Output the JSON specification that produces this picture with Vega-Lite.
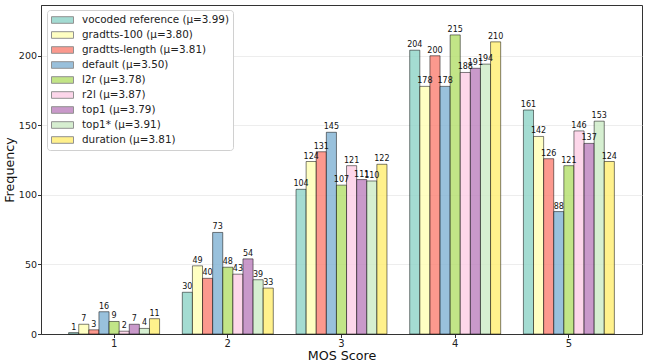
{
  "$schema": "https://vega.github.io/schema/vega-lite/v6.json",
  "width": 601,
  "height": 329,
  "autosize": {"type": "none"},
  "padding": {"left": 41, "top": 5, "right": 4, "bottom": 27},
  "config": {
    "font": "DejaVu Sans",
    "view": {"stroke": "#333", "strokeWidth": 1},
    "axis": {"labelFont": "DejaVu Sans", "titleFont": "DejaVu Sans", "labelColor": "#222", "titleColor": "#111", "titleFontWeight": "normal", "tickColor": "#333", "domainColor": "#333", "tickSize": 3.5}
  },
  "data": {
    "values": [
      {"score": "1", "system": "vocoded reference (μ=3.99)", "freq": 1},
      {"score": "1", "system": "gradtts-100 (μ=3.80)", "freq": 7},
      {"score": "1", "system": "gradtts-length (μ=3.81)", "freq": 3},
      {"score": "1", "system": "default (μ=3.50)", "freq": 16},
      {"score": "1", "system": "l2r (μ=3.78)", "freq": 9},
      {"score": "1", "system": "r2l (μ=3.87)", "freq": 2},
      {"score": "1", "system": "top1 (μ=3.79)", "freq": 7},
      {"score": "1", "system": "top1* (μ=3.91)", "freq": 4},
      {"score": "1", "system": "duration (μ=3.81)", "freq": 11},
      {"score": "2", "system": "vocoded reference (μ=3.99)", "freq": 30},
      {"score": "2", "system": "gradtts-100 (μ=3.80)", "freq": 49},
      {"score": "2", "system": "gradtts-length (μ=3.81)", "freq": 40},
      {"score": "2", "system": "default (μ=3.50)", "freq": 73},
      {"score": "2", "system": "l2r (μ=3.78)", "freq": 48},
      {"score": "2", "system": "r2l (μ=3.87)", "freq": 43},
      {"score": "2", "system": "top1 (μ=3.79)", "freq": 54},
      {"score": "2", "system": "top1* (μ=3.91)", "freq": 39},
      {"score": "2", "system": "duration (μ=3.81)", "freq": 33},
      {"score": "3", "system": "vocoded reference (μ=3.99)", "freq": 104},
      {"score": "3", "system": "gradtts-100 (μ=3.80)", "freq": 124},
      {"score": "3", "system": "gradtts-length (μ=3.81)", "freq": 131},
      {"score": "3", "system": "default (μ=3.50)", "freq": 145},
      {"score": "3", "system": "l2r (μ=3.78)", "freq": 107},
      {"score": "3", "system": "r2l (μ=3.87)", "freq": 121},
      {"score": "3", "system": "top1 (μ=3.79)", "freq": 111},
      {"score": "3", "system": "top1* (μ=3.91)", "freq": 110},
      {"score": "3", "system": "duration (μ=3.81)", "freq": 122},
      {"score": "4", "system": "vocoded reference (μ=3.99)", "freq": 204},
      {"score": "4", "system": "gradtts-100 (μ=3.80)", "freq": 178},
      {"score": "4", "system": "gradtts-length (μ=3.81)", "freq": 200},
      {"score": "4", "system": "default (μ=3.50)", "freq": 178},
      {"score": "4", "system": "l2r (μ=3.78)", "freq": 215},
      {"score": "4", "system": "r2l (μ=3.87)", "freq": 188},
      {"score": "4", "system": "top1 (μ=3.79)", "freq": 191},
      {"score": "4", "system": "top1* (μ=3.91)", "freq": 194},
      {"score": "4", "system": "duration (μ=3.81)", "freq": 210},
      {"score": "5", "system": "vocoded reference (μ=3.99)", "freq": 161},
      {"score": "5", "system": "gradtts-100 (μ=3.80)", "freq": 142},
      {"score": "5", "system": "gradtts-length (μ=3.81)", "freq": 126},
      {"score": "5", "system": "default (μ=3.50)", "freq": 88},
      {"score": "5", "system": "l2r (μ=3.78)", "freq": 121},
      {"score": "5", "system": "r2l (μ=3.87)", "freq": 146},
      {"score": "5", "system": "top1 (μ=3.79)", "freq": 137},
      {"score": "5", "system": "top1* (μ=3.91)", "freq": 153},
      {"score": "5", "system": "duration (μ=3.81)", "freq": 124}
    ]
  },
  "encoding": {
    "x": {
      "field": "score", "type": "nominal", "sort": null,
      "scale": {"paddingInner": 0.2, "paddingOuter": 0.243},
      "axis": {"title": "MOS Score", "labelAngle": 0, "labelFontSize": 10, "titleFontSize": 12.7, "labelPadding": 1, "titlePadding": 1}
    },
    "xOffset": {
      "field": "system", "type": "nominal", "sort": null,
      "scale": {"paddingInner": 0, "paddingOuter": 0}
    },
    "y": {
      "field": "freq", "type": "quantitative",
      "scale": {"domain": [0, 236.5], "nice": false},
      "axis": {"title": "Frequency", "values": [0, 50, 100, 150, 200], "labelFontSize": 9.5, "titleFontSize": 12.7, "labelPadding": 1, "grid": true, "gridColor": "#e6e6e6", "gridOpacity": 0.7, "titlePadding": 2}
    }
  },
  "layer": [
    {
      "mark": {"type": "bar", "fillOpacity": 0.8, "stroke": "black", "strokeOpacity": 0.5, "strokeWidth": 1},
      "encoding": {
        "color": {
          "field": "system", "type": "nominal", "sort": null,
          "scale": {
            "domain": ["vocoded reference (μ=3.99)", "gradtts-100 (μ=3.80)", "gradtts-length (μ=3.81)", "default (μ=3.50)", "l2r (μ=3.78)", "r2l (μ=3.87)", "top1 (μ=3.79)", "top1* (μ=3.91)", "duration (μ=3.81)"],
            "range": ["#8dd3c7", "#ffffb3", "#fb8072", "#80b1d3", "#b3de69", "#fccde5", "#bc80bd", "#ccebc5", "#ffed6f"]
          },
          "legend": {
            "title": null,
            "orient": "none",
            "legendX": 6,
            "legendY": 5,
            "symbolType": "M-2,-0.6H2V0.6H-2Z",
            "symbolSize": 121,
            "symbolOpacity": 0.8,
            "symbolStrokeColor": "#777",
            "symbolStrokeWidth": 1,
            "symbolOffset": 5.5,
            "labelFontSize": 10.4,
            "labelFont": "DejaVu Sans",
            "labelColor": "#222",
            "labelOffset": 13.5,
            "rowPadding": 3,
            "padding": 4,
            "strokeColor": "#d0d0d0",
            "fillColor": "white",
            "cornerRadius": 3
          }
        }
      }
    },
    {
      "mark": {"type": "text", "dy": -5, "fontSize": 8, "color": "#111", "font": "DejaVu Sans"},
      "encoding": {"text": {"field": "freq", "type": "quantitative"}}
    }
  ]
}
